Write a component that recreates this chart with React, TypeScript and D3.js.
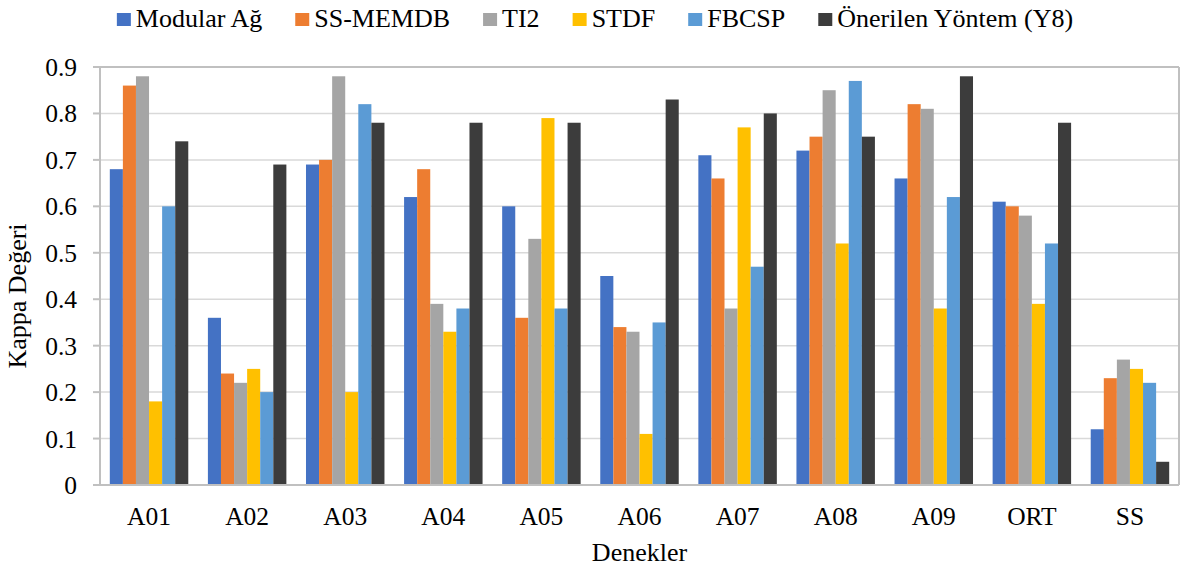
import React, { useLayoutEffect, useRef, useState } from "react";
import * as d3 from "d3";

const categories = ["A01", "A02", "A03", "A04", "A05", "A06", "A07", "A08", "A09", "ORT", "SS"];
const seriesNames = ["Modular Ağ", "SS-MEMDB", "TI2", "STDF", "FBCSP", "Önerilen Yöntem (Y8)"];
const seriesColors = ["#4472C4", "#ED7D31", "#A5A5A5", "#FFC000", "#5B9BD5", "#3C3C3C"];

const modularAg = [0.68, 0.36, 0.69, 0.62, 0.60, 0.45, 0.71, 0.72, 0.66, 0.61, 0.12];
const ssMemdb = [0.86, 0.24, 0.70, 0.68, 0.36, 0.34, 0.66, 0.75, 0.82, 0.60, 0.23];
const ti2 = [0.88, 0.22, 0.88, 0.39, 0.53, 0.33, 0.38, 0.85, 0.81, 0.58, 0.27];
const stdf = [0.18, 0.25, 0.20, 0.33, 0.79, 0.11, 0.77, 0.52, 0.38, 0.39, 0.25];
const fbcsp = [0.60, 0.20, 0.82, 0.38, 0.38, 0.35, 0.47, 0.87, 0.62, 0.52, 0.22];
const onerilen = [0.74, 0.69, 0.78, 0.78, 0.78, 0.83, 0.80, 0.75, 0.88, 0.78, 0.05];

const yTicks = [0, 0.1, 0.2, 0.3, 0.4, 0.5, 0.6, 0.7, 0.8, 0.9];
const yTickLabels = ["0", "0.1", "0.2", "0.3", "0.4", "0.5", "0.6", "0.7", "0.8", "0.9"];
const xTitle = "Denekler";
const yTitle = "Kappa Değeri";

const W = 1181;
const H = 569;
const M = { left: 100, right: 1179, top: 67, bottom: 485 };
const SERIF = '"Liberation Serif"';
const ts: React.CSSProperties = { fontFamily: SERIF };
const css = `svg.kchart text { font-family: "Liberation Serif", "Times New Roman", serif !important; }`;

export default function App() {
  const allSeries = [modularAg, ssMemdb, ti2, stdf, fbcsp, onerilen];

  const x0 = d3
    .scaleBand<string>()
    .domain(categories)
    .range([M.left, M.right])
    .paddingInner(0.2)
    .paddingOuter(0.1);
  const x1 = d3
    .scaleBand<number>()
    .domain(d3.range(seriesNames.length))
    .range([0, x0.bandwidth()]);
  const y = d3.scaleLinear().domain([0, 0.9]).range([M.bottom, M.top]);

  const legendFont = 26;
  const sq = 14;
  const gapSqText = 5;
  const gapItems = 33;
  const refs = useRef<(SVGTextElement | null)[]>([]);
  const [widths, setWidths] = useState<number[]>(seriesNames.map((s) => s.length * 12));
  useLayoutEffect(() => {
    const w = refs.current.map((r, i) => (r ? r.getComputedTextLength() : widths[i]));
    setWidths(w);
  }, []);
  const total =
    widths.reduce((a, b) => a + b, 0) + seriesNames.length * (sq + gapSqText) + (seriesNames.length - 1) * gapItems;
  const legendX: number[] = [];
  let xPos = 595 - total / 2;
  seriesNames.forEach((_, i) => {
    legendX.push(xPos);
    xPos += sq + gapSqText + widths[i] + gapItems;
  });

  return (
    <svg
      className="kchart"
      width={W}
      height={H}
      fontFamily="Liberation Serif"
      style={{ position: "absolute", left: 0, top: 0, display: "block", background: "#fff", fontFamily: SERIF }}
    >
      <style>{css}</style>
      {/* gridlines */}
      {yTicks.map((t, i) =>
        i === 0 || i === yTicks.length - 1 ? null : (
          <line key={"g" + i} x1={M.left} x2={M.right} y1={y(t)} y2={y(t)} stroke="#d9d9d9" strokeWidth={1.5} />
        )
      )}
      {/* bars */}
      {categories.map((c, ci) => (
        <g key={c} transform={`translate(${x0(c)},0)`}>
          {allSeries.map((s, si) => (
            <rect
              key={si}
              x={x1(si)}
              y={y(s[ci])}
              width={x1.bandwidth()}
              height={y(0) - y(s[ci])}
              fill={seriesColors[si]}
            />
          ))}
        </g>
      ))}
      {/* plot border */}
      <line x1={M.left} x2={M.right} y1={M.top} y2={M.top} stroke="#c0c0c0" strokeWidth={2} />
      <line x1={M.right} x2={M.right} y1={M.top} y2={M.bottom} stroke="#c0c0c0" strokeWidth={2} />
      <line x1={M.left} x2={M.left} y1={M.top} y2={M.bottom} stroke="#c0c0c0" strokeWidth={2} />
      <line x1={M.left} x2={M.right} y1={M.bottom} y2={M.bottom} stroke="#c0c0c0" strokeWidth={2} />
      {/* y ticks */}
      {yTicks.map((t, i) => (
        <g key={"t" + i}>
          <line x1={M.left - 7} x2={M.left} y1={y(t)} y2={y(t)} stroke="#c0c0c0" strokeWidth={2} />
          <text x={77} y={y(t) + 9} textAnchor="end" fontSize={25.5} fill="#000" style={ts}>
            {yTickLabels[i]}
          </text>
        </g>
      ))}
      {/* x labels */}
      {categories.map((c) => (
        <text
          key={"x" + c}
          x={(x0(c) as number) + x0.bandwidth() / 2}
          y={525}
          textAnchor="middle"
          fontSize={25.5}
          fill="#000"
          style={ts}
        >
          {c}
        </text>
      ))}
      {/* axis titles */}
      <text x={(M.left + M.right) / 2} y={561} textAnchor="middle" fontSize={26} fill="#000" style={ts}>
        {xTitle}
      </text>
      <text transform="translate(26,296) rotate(-90)" textAnchor="middle" fontSize={26} fill="#000" style={ts}>
        {yTitle}
      </text>
      {/* legend */}
      {seriesNames.map((name, i) => (
        <g key={name}>
          <rect x={legendX[i]} y={13} width={sq} height={13} fill={seriesColors[i]} />
          <text
            ref={(el) => {
              refs.current[i] = el;
            }}
            x={legendX[i] + sq + gapSqText}
            y={27}
            fontSize={legendFont}
            fill="#000"
            style={ts}
          >
            {name}
          </text>
        </g>
      ))}
    </svg>
  );
}
